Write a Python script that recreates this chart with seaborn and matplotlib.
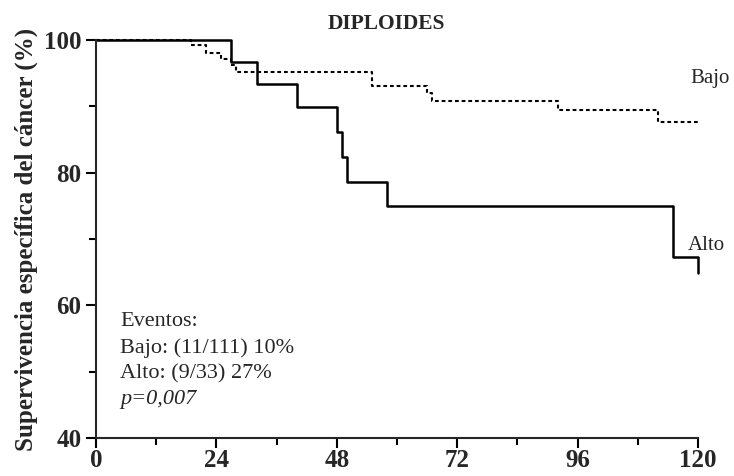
import pandas as pd
import matplotlib
matplotlib.use("Agg")
import matplotlib.pyplot as plt
import seaborn as sns
from matplotlib.ticker import MultipleLocator

sns.set_style("ticks")
plt.rcParams['font.family'] = ['Liberation Serif', 'DejaVu Serif']

# Kaplan-Meier steps (months, % survival)
alto_t = [0, 27, 32, 40, 48, 49, 50, 58, 115, 120]
alto_s = [100, 96.7, 93.4, 89.9, 86.1, 82.3, 78.6, 74.9, 67.3, 64.9]
bajo_t = [0, 19, 22, 25, 27, 28, 55, 66, 67, 92, 112, 120]
bajo_s = [100, 99.2, 98.1, 97.1, 96.2, 95.2, 93.1, 92.0, 90.8, 89.5, 87.6, 87.6]

x_ticks = [0, 24, 48, 72, 96, 120]
y_ticks = [40, 60, 80, 100]

df = pd.concat([
    pd.DataFrame({'meses': alto_t, 'superv': alto_s, 'grupo': 'Alto'}),
    pd.DataFrame({'meses': bajo_t, 'superv': bajo_s, 'grupo': 'Bajo'}),
])

fig = plt.figure(figsize=(7.34, 4.76), dpi=100)
ax = fig.add_axes([0.1308, 0.0798, 0.8202, 0.8362])

sns.lineplot(data=df[df.grupo == 'Alto'], x='meses', y='superv', ax=ax,
             drawstyle='steps-post', color='black', lw=1.8, clip_on=False)
sns.lineplot(data=df[df.grupo == 'Bajo'], x='meses', y='superv', ax=ax,
             drawstyle='steps-post', color='black', lw=1.5, ls=(0, (1.8, 1.4)),
             clip_on=False)

ax.set_xlim(0, 120)
ax.set_ylim(40, 100)
ax.set_xticks(x_ticks)
ax.set_yticks(y_ticks)
ax.xaxis.set_minor_locator(MultipleLocator(12))
ax.yaxis.set_minor_locator(MultipleLocator(10))
ax.tick_params(which='both', direction='out', width=1.5, color='black')
ax.tick_params(which='major', length=7, labelsize=18)
ax.tick_params(which='minor', length=5)
for lab in ax.get_xticklabels() + ax.get_yticklabels():
    lab.set_fontweight('bold')
ax.tick_params(axis='x', pad=1)

sns.despine(ax=ax)
ax.spines['left'].set_linewidth(1.5)
ax.spines['bottom'].set_linewidth(1.5)

ax.set_xlabel('')
ax.set_ylabel('Supervivencia específica del cáncer (%)', fontsize=18,
              fontweight='bold', labelpad=4)
ax.set_title('DIPLOIDES', fontsize=15.5, fontweight='bold', pad=8, x=0.482)

ax.text(118.5, 94.2, 'Bajo', fontsize=15, ha='left', va='center')
ax.text(118, 69.0, 'Alto', fontsize=15, ha='left', va='center')

ax.text(4.8, 57.6, 'Eventos:', fontsize=16, va='center')
ax.text(4.8, 53.6, 'Bajo: (11/111) 10%', fontsize=16, va='center')
ax.text(4.8, 49.7, 'Alto: (9/33) 27%', fontsize=16, va='center')
ax.text(4.8, 45.8, 'p=0,007', fontsize=16, va='center', style='italic')

fig.savefig('out.png', dpi=100)
